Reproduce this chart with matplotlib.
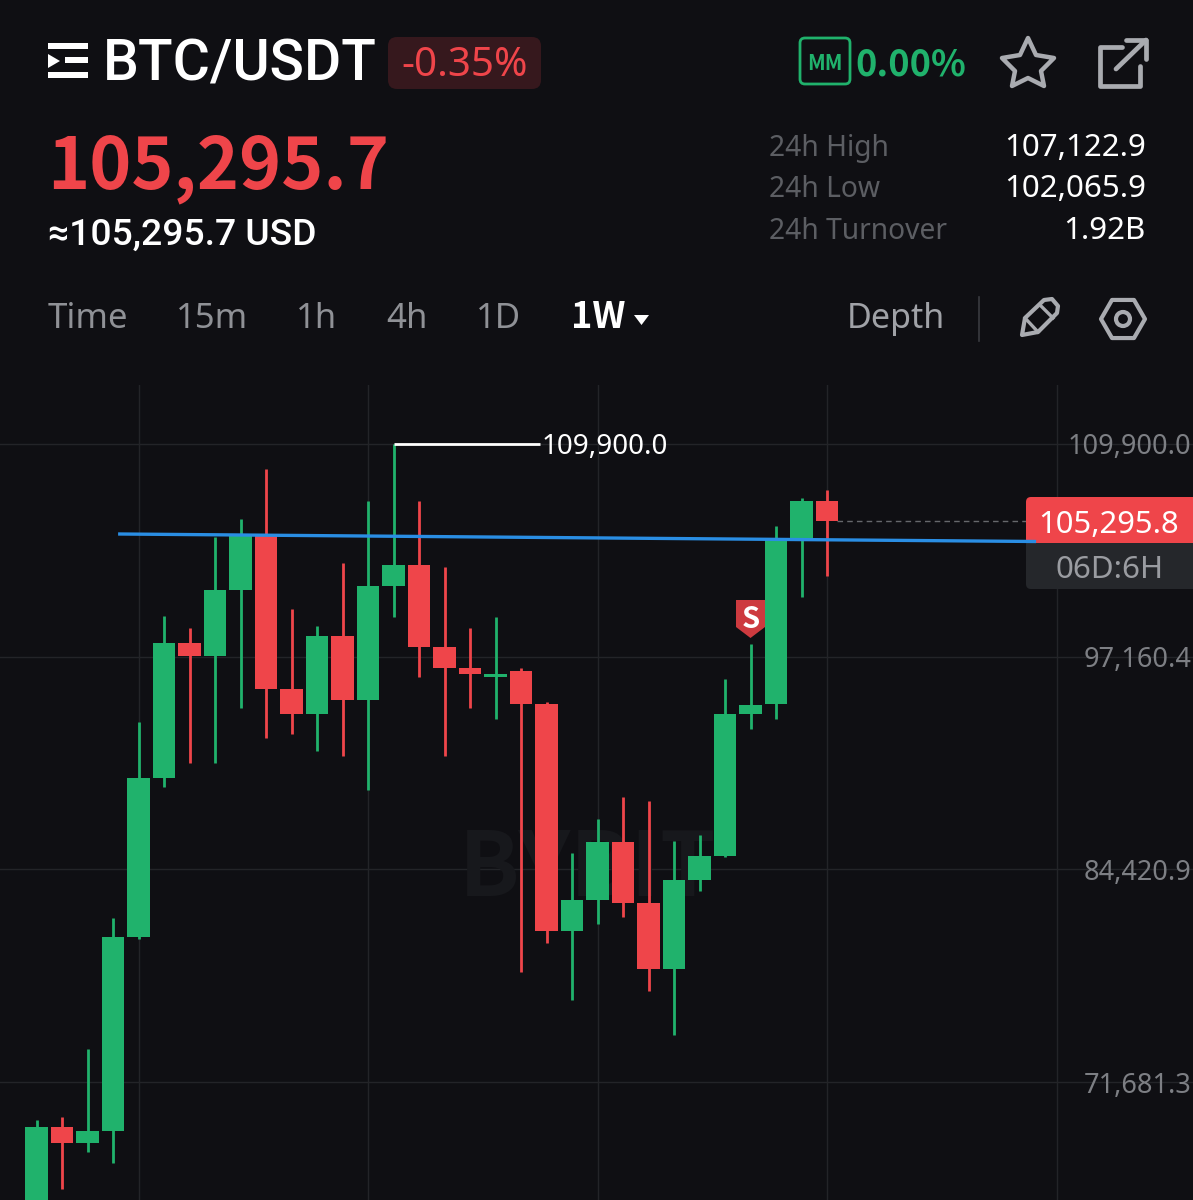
import matplotlib
matplotlib.use("Agg")
import matplotlib.pyplot as plt
from matplotlib.patches import FancyBboxPatch, Polygon, Rectangle, Circle, RegularPolygon

plt.rcParams['font.family'] = ['Noto Sans', 'DejaVu Sans']
HEAVY = ['Noto Sans CJK SC', 'DejaVu Sans']
MEDIUM = ['Roboto', 'DejaVu Sans']

BG = '#0f0f13'
GREEN = '#20b26c'
RED = '#ef454a'
GRID = '#232428'

# weekly candles
opens = [62819, 68988, 68030, 68749, 80369, 89893, 97980, 97201, 101155, 104449, 95224, 93727, 98399, 94566, 101394, 102652,
         97740, 96482, 95943, 96303, 94326, 80729, 82586, 86060, 82406, 78452, 83784, 85221, 93727, 94326, 104150, 106486]
closes = [68988, 68030, 68749, 80369, 89893, 97980, 97201, 101155, 104449, 95224, 93727, 98399, 94566, 101394, 102652, 97740,
          96482, 96123, 96123, 94326, 80729, 82586, 86060, 82406, 78452, 83784, 85221, 93727, 94266, 104150, 106486, 105296]
highs = [69408, 69587, 73660, 81507, 93248, 99597, 98878, 104329, 105407, 108402, 100016, 98998, 102772, 106486, 109900, 106486,
         102532, 98878, 99537, 96482, 94446, 85401, 87437, 88755, 88516, 86120, 86479, 95823, 97920, 104988, 106665, 107145]
lows = [62220, 65274, 67491, 66832, 80249, 89354, 90792, 90792, 94086, 92289, 92529, 91511, 91211, 89175, 99537, 95943,
        91211, 94086, 93427, 78273, 80010, 76596, 81148, 81567, 77135, 74499, 83125, 85161, 92828, 93427, 100735, 102000]

price_ticks = [109900.0, 97160.4, 84420.9, 71681.3]
price_labels = ['109,900.0', '97,160.4', '84,420.9', '71,681.3']
time_ticks = [4, 13, 22, 31, 40.03]

trend_x = [3.2, 39.2]
trend_y = [104509, 104059]
last_price = 105295.8
peak_price = 109900.0
peak_index = 14

tabs = ['Time', '15m', '1h', '4h', '1D']
tab_x = [48, 176, 296, 386, 476]
stat_names = ['24h High', '24h Low', '24h Turnover']
stat_values = ['107,122.9', '102,065.9', '1.92B']
stat_y = [156, 197, 239]

W, H = 1193, 1200
fig = plt.figure(figsize=(W / 100, H / 100), dpi=100, facecolor=BG)

# chart area, index on x and price on y
ax = fig.add_axes([0, 0, 1, (H - 385) / H], facecolor=BG)
ax.set_xlim(-36.5 / 25.5, (W - 36.5) / 25.5)
ax.set_ylim(64613, 113434)
for s in ax.spines.values():
    s.set_visible(False)
ax.set_xticks(time_ticks)
ax.set_xticklabels([])
ax.set_yticks(price_ticks)
ax.set_yticklabels(price_labels, ha='right', fontsize=19.5, color='#7d7f84')
ax.yaxis.tick_right()
ax.tick_params(axis='both', length=0, pad=-1)
ax.grid(True, color=GRID, lw=1.0)
ax.set_axisbelow(True)

ax.text(21.6, 84400, 'BYBIT', color='#17181c', fontsize=64, fontweight='bold', family=HEAVY,
        ha='center', va='center', zorder=1)

for i in range(len(opens)):
    col = GREEN if closes[i] >= opens[i] else RED
    ax.vlines(i, lows[i], highs[i], color=col, lw=2.0, zorder=3)
    bottom = min(opens[i], closes[i])
    height = max(abs(closes[i] - opens[i]), 180)
    ax.bar(i, height, bottom=bottom, width=0.87, color=col, lw=0, zorder=4)

ax.hlines(last_price, 31.4, 38.8, color='#66686c', lw=1.0, linestyles=(0, (4, 3)), zorder=2)
ax.plot([peak_index, peak_index + 5.75], [peak_price, peak_price], color='white', lw=2.0, zorder=5, solid_capstyle='butt')
ax.text(peak_index + 5.8, peak_price - 200, '109,900.0', color='white', fontsize=20, va='center', ha='left', zorder=5)

# interface layer in pixel coordinates
ui = fig.add_axes([0, 0, 1, 1], facecolor='none')
ui.set_xlim(0, W)
ui.set_ylim(H, 0)
ui.axis('off')


def label(x, y, s, size, color, weight='normal', ha='left'):
    fam = ['Noto Sans', 'DejaVu Sans']
    if weight == 'bold':
        fam = HEAVY
    elif weight == 'medium':
        fam = MEDIUM
    ui.text(x, y, s, fontsize=size, color=color, fontweight=weight, family=fam, ha=ha, va='baseline', zorder=10)


def rbox(x, y, w, h, r, fc, ec='none', lw=0, z=6):
    ui.add_patch(FancyBboxPatch((x + r, y + r), w - 2 * r, h - 2 * r, boxstyle='round,pad=%f' % r,
                                fc=fc, ec=ec, lw=lw, zorder=z))


# logo
for yy, x0 in [(46, 48), (60, 65), (75, 48)]:
    ui.add_patch(Rectangle((x0, yy - 3), 88 - x0, 6, fc='white', ec='none'))
ui.add_patch(Polygon([(48, 54), (60, 61), (48, 68)], fc='white', ec='none'))
label(103, 81, 'BTC/USDT', 41, 'white', 'medium')
rbox(388, 37, 153, 52, 9, '#36181d')
label(401, 76, '-0.35%', 29, RED)
label(47, 188, '105,295.7', 51.5, RED, 'bold')
label(48, 245, '≈105,295.7 USD', 26.8, 'white', 'medium')

# top right icons
rbox(800, 38, 50, 46, 5, 'none', GREEN, 2.0)
label(825, 70, 'MM', 15, GREEN, 'bold', ha='center')
label(855, 75, '0.00%', 26, GREEN, 'bold')
star = [(1028, 38), (1036, 55), (1054, 58), (1041, 71), (1044, 86), (1028, 78), (1012, 86), (1015, 71), (1002, 58), (1020, 55)]
ui.add_patch(Polygon(star, closed=True, fc='none', ec='#a9abb0', lw=3.2, joinstyle='round'))
icol = '#a9abb0'
ui.plot([1122, 1100, 1100, 1140, 1140], [47, 47, 86, 86, 66], color=icol, lw=3.4, solid_joinstyle='round', solid_capstyle='round')
ui.plot([1116, 1146], [69, 40], color=icol, lw=3.4, solid_capstyle='round')
ui.plot([1126, 1146, 1146], [40, 40, 59], color=icol, lw=3.4, solid_capstyle='round', solid_joinstyle='round')

# stats
for n, v, yy in zip(stat_names, stat_values, stat_y):
    label(769, yy, n, 20.3, '#5c5e63')
    label(1146, yy, v, 22.5, 'white', ha='right')

# timeframe row
for t, xx in zip(tabs, tab_x):
    label(xx, 328, t, 25, '#8f9196')
label(571, 328, '1W', 26, 'white', 'bold')
ui.add_patch(Polygon([(634, 315), (649, 315), (641.5, 325)], fc='white', ec='none'))
label(847, 328, 'Depth', 24.5, '#a0a2a7')
ui.plot([979, 979], [297, 341], color='#3a3b40', lw=1.2)

# pencil
pen = [(1022, 335), (1025, 318), (1044, 300), (1052, 299), (1058, 306), (1057, 313), (1038, 332)]
ui.add_patch(Polygon(pen, closed=True, fc='none', ec=icol, lw=3.0, joinstyle='round'))
ui.plot([1025, 1038], [318, 332], color=icol, lw=2.4)
ui.plot([1040, 1053], [305, 318], color=icol, lw=2.4)
# settings hexagon
ui.add_patch(RegularPolygon((1123, 319), 6, radius=22, orientation=3.14159 / 2, fc='none', ec=icol, lw=3.0, joinstyle='round'))
ui.add_patch(Circle((1123, 319), 7, fc='none', ec=icol, lw=3.0))

# last price tag
rbox(1026, 542, 190, 47, 5, '#25272b')
rbox(1026, 497, 190, 46, 5, RED)
ui.add_patch(Rectangle((1026, 530), 190, 13, fc=RED, ec='none', zorder=6))
ui.add_patch(Rectangle((1026, 540), 190, 10, fc='#25272b', ec='none', zorder=5.5))
label(1109, 533, '105,295.8', 22.3, 'white', ha='center')
label(1110, 578, '06D:6H', 22.5, '#9a9ca1', ha='center')

# sell flag
ui.add_patch(Polygon([(736, 600), (765, 600), (765, 627), (750.5, 638), (736, 627)], fc='#cd3a3f', ec='none', zorder=6))
label(750.5, 628, 'S', 21, 'white', 'bold', ha='center')

# trend line drawn on top of the tag, through the chart scale
trend_px = [ui.transData.inverted().transform(ax.transData.transform((a, b))) for a, b in zip(trend_x, trend_y)]
ui.plot([p[0] for p in trend_px], [p[1] for p in trend_px], color='#2a8ee4', lw=2.4, zorder=8, solid_capstyle='butt')

fig.savefig('out.png', dpi=100, facecolor=BG)
